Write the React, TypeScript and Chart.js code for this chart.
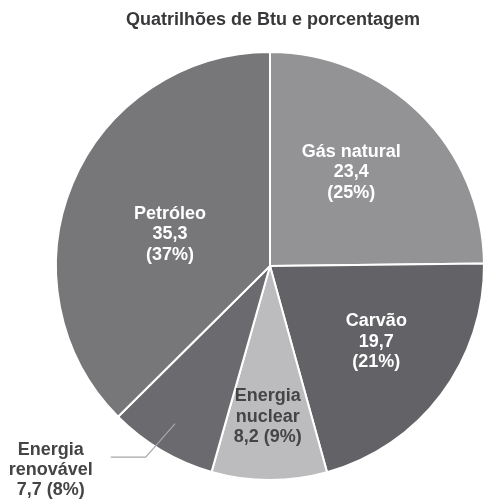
import React, { useEffect, useRef } from "react";
import { Chart, registerables } from "chart.js";

Chart.register(...registerables);

const categories = ["Gás natural", "Carvão", "Energia nuclear", "Energia renovável", "Petróleo"];
const values = [23.4, 19.7, 8.2, 7.7, 35.3];
const labelLines = [
  ["Gás natural"],
  ["Carvão"],
  ["Energia", "nuclear"],
  ["Energia", "renovável"],
  ["Petróleo"],
];
const colors = ["#939396", "#636367", "#bcbcbe", "#6b6b6f", "#77777a"];
const textColors = ["#ffffff", "#ffffff", "#454547", "#454547", "#ffffff"];
const titleText = "Quatrilhões de Btu e porcentagem";

const FONT = "'Liberation Sans', Arial, Helvetica, sans-serif";

const fmt = (v: number) => v.toFixed(1).replace(".", ",");

const labelPlugin = {
  id: "sliceLabels",
  afterDatasetsDraw(chart: any) {
    const ctx = chart.ctx;
    const meta = chart.getDatasetMeta(0);
    const data = chart.data.datasets[0].data as number[];
    const total = data.reduce((a, b) => a + b, 0);
    // per-slice placement: [radius fraction, angle offset (deg)], or "outside"
    const place: any[] = [
      [0.58, -3.8],
      [0.61, -1.5],
      [0.705, 0.7],
      "outside",
      [0.49, -5],
    ];
    ctx.save();
    // title
    const cx0 = (chart.chartArea.left + chart.chartArea.right) / 2;
    ctx.fillStyle = "#38383a";
    ctx.font = `bold 18px ${FONT}`;
    ctx.textAlign = "center";
    ctx.textBaseline = "middle";
    ctx.fillText(titleText, cx0 + 3, 20);

    meta.data.forEach((arc: any, i: number) => {
      const p = arc.getProps(["x", "y", "startAngle", "endAngle", "outerRadius"], true);
      const mid = (p.startAngle + p.endAngle) / 2;
      const pct = Math.round((data[i] / total) * 100);
      const lh = 20.5;
      ctx.font = `bold 18px ${FONT}`;
      ctx.fillStyle = textColors[i];
      ctx.textAlign = "center";
      ctx.textBaseline = "middle";
      if (place[i] === "outside") {
        const a1 = mid + (0.5 * Math.PI) / 180;
        const a2 = mid + (2.5 * Math.PI) / 180;
        const sx = p.x + Math.cos(a1) * p.outerRadius * 0.86;
        const sy = p.y + Math.sin(a1) * p.outerRadius * 0.86;
        const ex = p.x + Math.cos(a2) * p.outerRadius * 1.065;
        const ey = p.y + Math.sin(a2) * p.outerRadius * 1.065;
        ctx.strokeStyle = "#a8a8aa";
        ctx.lineWidth = 1.2;
        ctx.beginPath();
        ctx.moveTo(sx, sy);
        ctx.lineTo(ex, ey);
        ctx.lineTo(ex - 35, ey);
        ctx.stroke();
        const lines = [...labelLines[i], `${fmt(data[i])} (${pct}%)`];
        const tx = ex - 95;
        const ty = ey + 13;
        lines.forEach((t, k) => {
          ctx.fillText(t, tx, ty + (k - (lines.length - 1) / 2) * 20);
        });
      } else {
        const [frac, off] = place[i];
        const a = mid + (off * Math.PI) / 180;
        const tx = p.x + Math.cos(a) * p.outerRadius * frac;
        const ty = p.y + Math.sin(a) * p.outerRadius * frac;
        const lines =
          labelLines[i].length > 1
            ? [...labelLines[i], `${fmt(data[i])} (${pct}%)`]
            : [...labelLines[i], fmt(data[i]), `(${pct}%)`];
        lines.forEach((t, k) => {
          ctx.fillText(t, tx, ty + (k - (lines.length - 1) / 2) * lh);
        });
      }
    });
    ctx.restore();
  },
};

export default function App() {
  const ref = useRef<HTMLCanvasElement | null>(null);
  useEffect(() => {
    if (!ref.current) return;
    const chart = new Chart(ref.current, {
      type: "pie",
      data: {
        labels: categories,
        datasets: [
          {
            data: values,
            backgroundColor: colors,
            borderColor: "#ffffff",
            borderWidth: 2,
          },
        ],
      },
      options: {
        animation: false,
        responsive: false,
        devicePixelRatio: 1,
        layout: { padding: { top: 51, bottom: 18, left: 55, right: 55 } },
        plugins: {
          legend: { display: false },
          title: { display: false },
          tooltip: { enabled: false },
        },
      },
      plugins: [labelPlugin],
    });
    return () => chart.destroy();
  }, []);
  return (
    <div
      style={{
        position: "absolute",
        left: 0,
        top: 0,
        width: 484,
        height: 499,
        overflow: "hidden",
        background: "#ffffff",
      }}
    >
      <canvas ref={ref} width={540} height={499} style={{ display: "block" }} />
    </div>
  );
}
